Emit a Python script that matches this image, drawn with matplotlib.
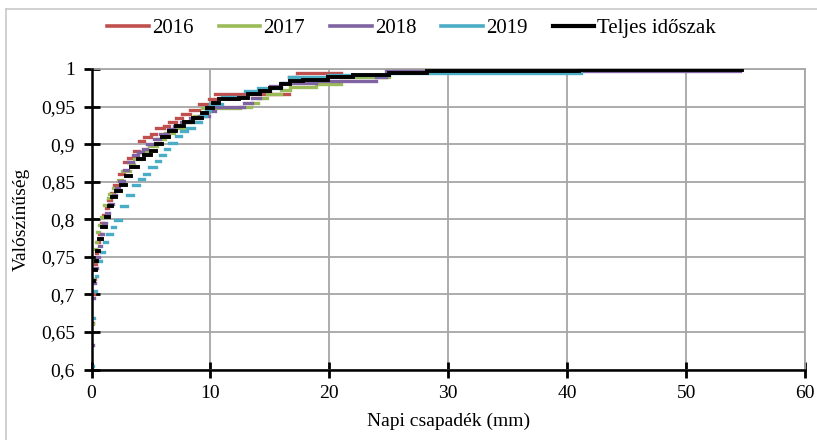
import numpy as np
import matplotlib.pyplot as plt
from matplotlib.lines import Line2D

plt.rcParams['font.family'] = ['Liberation Serif', 'DejaVu Serif']

x_2016 = [0, 0.1, 0.2, 0.3, 0.4, 0.5, 0.6, 0.8, 1.0, 1.2, 1.4, 1.6, 1.9, 2.3, 2.7, 3.1, 3.6, 4.0, 4.4,
          5.0, 5.4, 6.1, 6.5, 7.1, 7.6, 8.3, 9.0, 9.9, 10.4, 16.6, 17.3, 21.0]
p_2016 = [0.662, 0.70, 0.72, 0.74, 0.755, 0.77, 0.78, 0.795, 0.805, 0.815, 0.825, 0.835, 0.845, 0.86,
          0.876, 0.882, 0.891, 0.904, 0.909, 0.913, 0.922, 0.924, 0.929, 0.935, 0.940, 0.946, 0.953,
          0.960, 0.967, 0.990, 0.995, 1.0]

x_2017 = [0, 0.1, 0.2, 0.3, 0.4, 0.5, 0.65, 0.8, 1.05, 1.35, 1.5, 1.8, 2.2, 2.6, 3.2, 3.6, 4.15, 4.85,
          5.5, 6.2, 6.9, 7.8, 8.6, 9.3, 12.5, 13.4, 14.0, 14.8, 15.9, 16.7, 18.9, 21.0, 25.0, 28.4]
p_2017 = [0.66, 0.72, 0.745, 0.76, 0.77, 0.783, 0.792, 0.803, 0.819, 0.828, 0.834, 0.842, 0.852, 0.864,
          0.873, 0.88, 0.889, 0.898, 0.907, 0.915, 0.922, 0.929, 0.938, 0.948, 0.950, 0.955, 0.961,
          0.967, 0.972, 0.976, 0.980, 0.990, 0.996, 1.0]

x_2018 = [0, 0.1, 0.2, 0.3, 0.45, 0.6, 0.8, 1.0, 1.2, 1.5, 1.8, 2.1, 2.34, 2.76, 3.04, 3.45, 3.87, 4.3,
          4.7, 5.26, 5.8, 6.4, 6.9, 7.5, 8.3, 9.0, 9.9, 10.4, 12.8, 13.5, 14.2, 15.0, 15.9, 18.9, 23.9,
          24.8, 54.5]
p_2018 = [0.633, 0.695, 0.715, 0.735, 0.75, 0.765, 0.78, 0.795, 0.808, 0.82, 0.832, 0.842, 0.851, 0.865,
          0.876, 0.885, 0.889, 0.893, 0.900, 0.907, 0.913, 0.920, 0.924, 0.929, 0.935, 0.937, 0.944,
          0.949, 0.955, 0.962, 0.971, 0.978, 0.981, 0.984, 0.989, 0.997, 1.0]

x_2019 = [0, 0.1, 0.22, 0.36, 0.5, 0.78, 1.06, 1.34, 1.75, 2.0, 2.48, 3.0, 3.45, 4.0, 4.4, 4.85, 5.4,
          5.8, 6.2, 6.5, 7.1, 7.5, 8.05, 8.6, 9.2, 9.6, 10.0, 11.0, 12.9, 14.0, 15.9, 16.6, 19.9, 25.0,
          41.2]
p_2019 = [0.605, 0.669, 0.705, 0.725, 0.745, 0.756, 0.770, 0.781, 0.790, 0.799, 0.818, 0.832, 0.845,
          0.854, 0.860, 0.869, 0.878, 0.885, 0.893, 0.902, 0.911, 0.918, 0.922, 0.929, 0.938, 0.944,
          0.953, 0.963, 0.971, 0.975, 0.982, 0.989, 0.992, 0.9945, 1.0]

x_all = [0, 0.08, 0.22, 0.36, 0.45, 0.64, 0.92, 1.2, 1.48, 1.75, 2.06, 2.48, 2.9, 3.3, 3.87, 4.43, 5.0,
         5.4, 5.96, 6.5, 7.1, 7.8, 8.5, 9.3, 9.7, 10.2, 10.7, 12.4, 13.2, 14.2, 15.0, 15.9, 16.7, 17.8,
         19.9, 22.0, 25.0, 28.2, 41.0, 54.7]
p_all = [0.70, 0.718, 0.732, 0.745, 0.758, 0.774, 0.79, 0.803, 0.817, 0.83, 0.838, 0.846, 0.858, 0.869,
         0.88, 0.885, 0.891, 0.90, 0.909, 0.918, 0.924, 0.929, 0.935, 0.942, 0.948, 0.955, 0.960, 0.962,
         0.9665, 0.971, 0.975, 0.980, 0.9835, 0.985, 0.989, 0.992, 0.995, 0.997, 0.999, 1.0]

series = [("2016", x_2016, p_2016, "#C0504D", 2.4),
          ("2017", x_2017, p_2017, "#9BBB59", 2.4),
          ("2018", x_2018, p_2018, "#8064A2", 2.4),
          ("2019", x_2019, p_2019, "#4BACC6", 2.4),
          ("Teljes időszak", x_all, p_all, "black", 2.8)]

fig = plt.figure(figsize=(8.17, 4.4), dpi=100)
ax = fig.add_axes([0.112, 0.1602, 0.8733, 0.683])

handles = []
for name, xs, ps, col, lw in series:
    xs = np.array(xs)
    ps = np.array(ps)
    # only the flat part of each step is drawn, like the original
    ax.hlines(ps[:-1], xs[:-1], xs[1:], colors=col, linewidth=lw, capstyle="projecting", zorder=3)
    handles.append(Line2D([], [], color=col, linewidth=lw + 0.2, label=name))

ax.set_xlim(0, 60)
ax.set_ylim(0.6, 1.0)
ax.set_xticks(np.arange(0, 61, 10))
yt = np.arange(0.6, 1.001, 0.05)
ax.set_yticks(yt)
ax.set_yticklabels([("%g" % round(v, 2)).replace(".", ",") for v in yt])

ax.grid(True, color="#a6a6a6", linewidth=1.3, zorder=0)
ax.set_axisbelow("line")
for s in ["top", "right"]:
    ax.spines[s].set_color("#a6a6a6")
    ax.spines[s].set_linewidth(1.3)
for s in ["left", "bottom"]:
    ax.spines[s].set_color("black")
    ax.spines[s].set_linewidth(1.8)
    ax.spines[s].set_zorder(4)
ax.xaxis.set_tick_params(which="major", direction="inout", length=12, width=2, color="black",
                         labelsize=14, pad=5)
ax.yaxis.set_tick_params(which="major", direction="inout", length=12, width=2, color="black",
                         labelsize=14, pad=6)

ax.set_xlabel("Napi csapadék (mm)", fontsize=14, labelpad=8)
ax.set_ylabel("Valószínűség", fontsize=14, labelpad=8)

fig.legend(handles=handles, loc="center", bbox_to_anchor=(0.504, 0.936), ncol=5, frameon=False,
           fontsize=15, handlelength=2.0, handletextpad=0.15, columnspacing=1.2)

# chart area frame (top and left edges visible)
fig.add_artist(Line2D([6 / 817, 6 / 817], [0, 1 - 9 / 440], color="#c8c8c8", linewidth=1.2))
fig.add_artist(Line2D([6 / 817, 1], [1 - 9 / 440, 1 - 9 / 440], color="#c8c8c8", linewidth=1.2))

fig.savefig("out.png", dpi=100)
